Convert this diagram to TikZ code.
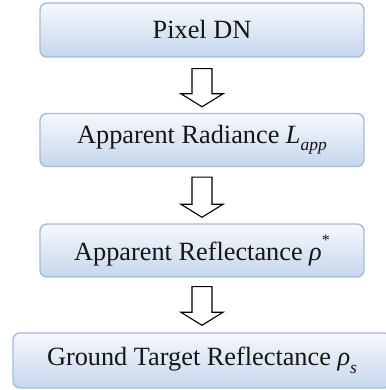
\documentclass[tikz,border=0pt]{standalone}
\usepackage{fontspec}
\setmainfont{Liberation Serif}
\usetikzlibrary{calc}

% small helpers for sub/superscripts set in text italics
\newcommand{\lowsub}[1]{\raisebox{-0.28em}{\fontsize{17.5}{17.5}\selectfont\textit{#1}}}
\newcommand{\highsup}[1]{\raisebox{0.6em}{\fontsize{16}{16}\selectfont #1}}

\tikzset{
  flowbox/.style={
    draw=boxedge, line width=1.4pt, rounded corners=7pt,
    top color=boxtop, bottom color=boxbottom,
    minimum width=324pt, minimum height=53pt, inner sep=0pt,
    font=\fontsize{26.3}{30}\selectfont, text=textdark
  },
  blockarrow/.style={draw=black, line width=1.1pt, fill=white, line join=miter}
}
\definecolor{boxedge}{HTML}{A6BADA}
\definecolor{boxtop}{HTML}{F6F8FC}
\definecolor{boxbottom}{HTML}{C6D6EC}
\definecolor{textdark}{HTML}{161616}

% hollow down arrow from #1 to #2 (tip)
\newcommand{\downblock}[2]{%
  \draw[blockarrow]
    ($(#1)+(-10pt,0)$) -- ($(#1)+(10pt,0)$) --
    ($(#2)+(10pt,13pt)$) -- ($(#2)+(21pt,13pt)$) -- (#2) --
    ($(#2)+(-21pt,13pt)$) -- ($(#2)+(-10pt,13pt)$) -- cycle;}

\begin{document}
\begin{tikzpicture}[x=1pt,y=1pt]
  \useasboundingbox (0,0) rectangle (385,390);

  \node[flowbox, minimum height=54pt] (dn)  at (202,360) {Pixel DN};
  \node[flowbox] (rad) at (202,250) {Apparent Radiance \textit{L}\lowsub{app}};
  \node[flowbox] (ref) at (202,139.5) {Apparent Reflectance \textit{ρ}\highsup{*}};
  \node[flowbox, minimum width=378pt, minimum height=55pt] (gnd) at (202,29.5)
    {Ground Target Reflectance \textit{ρ}\lowsub{s}};

  \coordinate (a1s) at ($(dn.south)+(0,-11pt)$);
  \coordinate (a1e) at ($(rad.north)+(0,6pt)$);
  \coordinate (a2s) at ($(rad.south)+(0,-10pt)$);
  \coordinate (a2e) at ($(ref.north)+(0,6pt)$);
  \coordinate (a3s) at ($(ref.south)+(0,-9pt)$);
  \coordinate (a3e) at ($(gnd.north)+(0,7pt)$);

  \downblock{a1s}{a1e}
  \downblock{a2s}{a2e}
  \downblock{a3s}{a3e}
\end{tikzpicture}
\end{document}
